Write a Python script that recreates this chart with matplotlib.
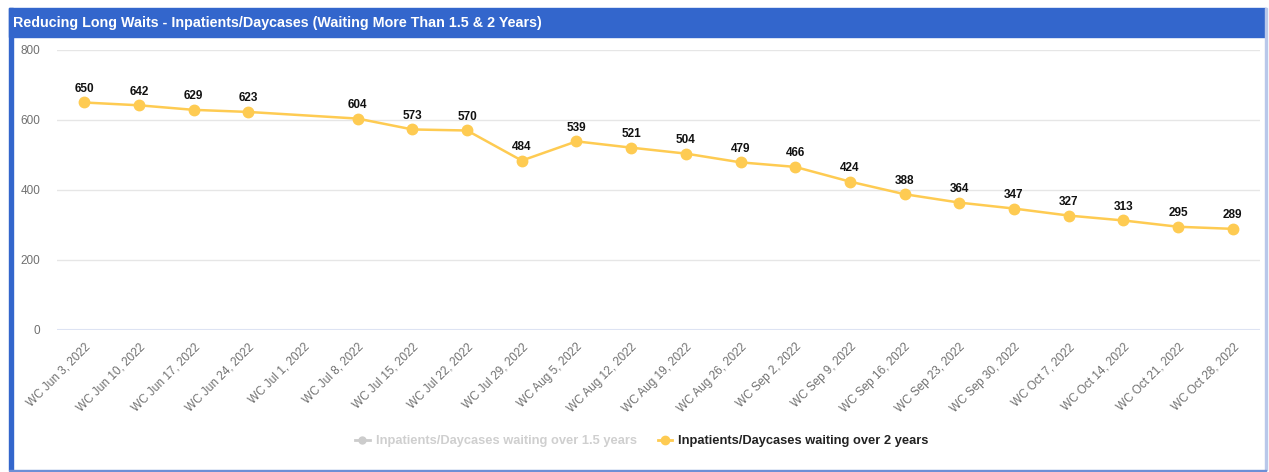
import numpy as np
import matplotlib.pyplot as plt
from matplotlib.patches import Rectangle
from matplotlib.lines import Line2D

plt.rcParams['font.family'] = ['Liberation Sans', 'DejaVu Sans']

TITLE = "Reducing Long Waits - Inpatients/Daycases (Waiting More Than 1.5 & 2 Years)"
WEEKS = [
    "WC Jun 3, 2022", "WC Jun 10, 2022", "WC Jun 17, 2022", "WC Jun 24, 2022",
    "WC Jul 1, 2022", "WC Jul 8, 2022", "WC Jul 15, 2022", "WC Jul 22, 2022",
    "WC Jul 29, 2022", "WC Aug 5, 2022", "WC Aug 12, 2022", "WC Aug 19, 2022",
    "WC Aug 26, 2022", "WC Sep 2, 2022", "WC Sep 9, 2022", "WC Sep 16, 2022",
    "WC Sep 23, 2022", "WC Sep 30, 2022", "WC Oct 7, 2022", "WC Oct 14, 2022",
    "WC Oct 21, 2022", "WC Oct 28, 2022",
]
# no value reported for Jul 1
OVER_2_YEARS = [650, 642, 629, 623, None, 604, 573, 570, 484, 539, 521, 504,
                479, 466, 424, 388, 364, 347, 327, 313, 295, 289]
SERIES_NAMES = ["Inpatients/Daycases waiting over 1.5 years",
                "Inpatients/Daycases waiting over 2 years"]
Y_TICKS = [0, 200, 400, 600, 800]

YELLOW = "#fecb52"
BLUE = "#3366cc"
W, H = 1269, 472

fig = plt.figure(figsize=(W / 100, H / 100), dpi=100)

# frame + title bar
fig.patches.append(Rectangle((9 / W, 1 - 37 / H), 1257 / W, 29 / H,
                             transform=fig.transFigure, color=BLUE, zorder=0))
fig.patches.append(Rectangle((9 / W, 1 - 470 / H), 4 / W, 462 / H,
                             transform=fig.transFigure, color=BLUE, zorder=0))
fig.patches.append(Rectangle((1265 / W, 1 - 470 / H), 1.5 / W, 462 / H,
                             transform=fig.transFigure, color="#b9c8ea", zorder=0))
fig.patches.append(Rectangle((9 / W, 1 - 471 / H), 1257 / W, 1.5 / H,
                             transform=fig.transFigure, color="#6d8fd6", zorder=0))
fig.text(13 / W, 1 - 22.5 / H, TITLE, color="white", fontsize=10.3,
         fontweight="bold", va="center", ha="left")

ax = fig.add_axes([57 / W, 1 - 330 / H, 1203 / W, 280 / H])
x = [i for i, v in enumerate(OVER_2_YEARS) if v is not None]
y = [v for v in OVER_2_YEARS if v is not None]
ax.plot(x, y, color=YELLOW, lw=1.8, marker="o", ms=7.5, zorder=3)
for xi, yi in zip(x, y):
    ax.annotate(str(yi), (xi, yi), xytext=(0, 5.5), textcoords="offset points",
                ha="center", va="bottom", fontsize=8.5, fontweight="bold",
                color="#111111")

ax.set_xlim(-0.5, len(WEEKS) - 0.5)
ax.set_ylim(0, 800)
ax.set_yticks(Y_TICKS)
ax.set_xticks(range(len(WEEKS)))
ax.set_xticklabels(WEEKS, rotation=45, ha="right", rotation_mode="anchor")
ax.tick_params(axis="both", length=0, labelsize=8.5, labelcolor="#707070")
ax.tick_params(axis="y", pad=12)
ax.tick_params(axis="x", pad=8)
ax.grid(axis="y", color="#e6e6e6", lw=1)
ax.set_axisbelow(True)
for s in ax.spines.values():
    s.set_visible(False)
ax.axhline(0, color="#dde3f3", lw=1.5, zorder=1)

handles = [
    Line2D([], [], color="#cccccc", lw=2, marker="o", ms=5),
    Line2D([], [], color=YELLOW, lw=2, marker="o", ms=6),
]
leg = fig.legend(handles, SERIES_NAMES, loc="center", ncol=2,
                 bbox_to_anchor=(642 / W, 1 - 441 / H), frameon=False,
                 prop={"size": 9.3, "weight": "bold"}, handlelength=1.1,
                 columnspacing=1.6, handletextpad=0.5)
leg.get_texts()[0].set_color("#cfcfcf")
leg.get_texts()[1].set_color("#222222")

fig.savefig("out.png", dpi=100)
